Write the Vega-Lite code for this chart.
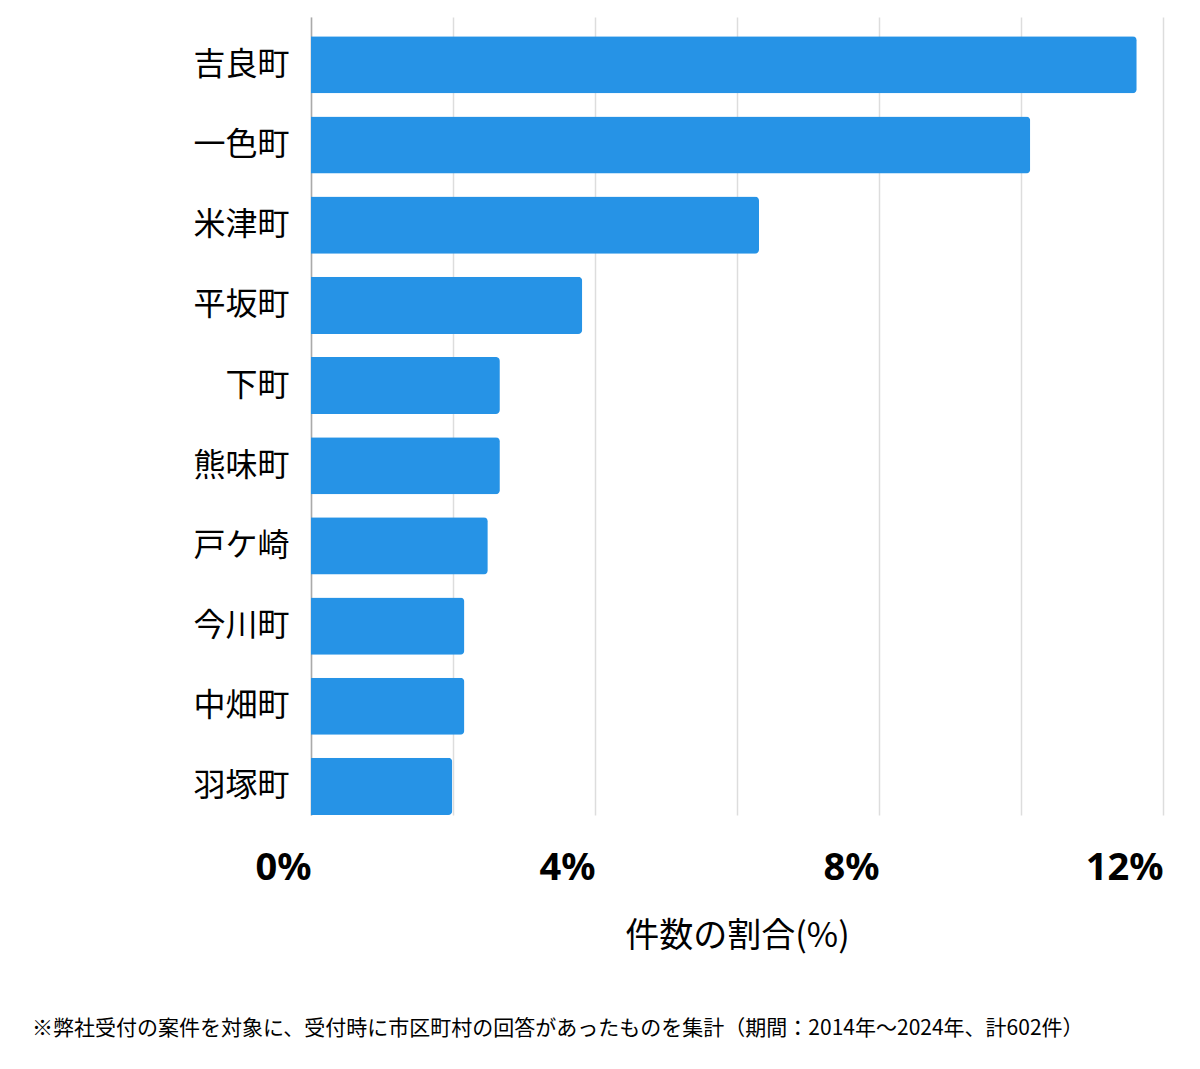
{
  "$schema": "https://vega.github.io/schema/vega-lite/v6.json",
  "width": 852,
  "height": 798,
  "autosize": {"type": "none"},
  "padding": {"left": 311, "top": 17, "right": 37, "bottom": 254},
  "background": "white",
  "data": {
    "values": [
      {"town": "吉良町", "pct": 11.63},
      {"town": "一色町", "pct": 10.13},
      {"town": "米津町", "pct": 6.31},
      {"town": "平坂町", "pct": 3.82},
      {"town": "下町", "pct": 2.66},
      {"town": "熊味町", "pct": 2.66},
      {"town": "戸ケ崎", "pct": 2.49},
      {"town": "今川町", "pct": 2.16},
      {"town": "中畑町", "pct": 2.16},
      {"town": "羽塚町", "pct": 1.99}
    ]
  },
  "title": {
    "text": "※弊社受付の案件を対象に、受付時に市区町村の回答があったものを集計（期間：2014年～2024年、計602件）",
    "orient": "bottom",
    "anchor": "start",
    "frame": "group",
    "dx": -279,
    "offset": 65,
    "font": "Noto Sans CJK JP",
    "fontSize": 21,
    "fontWeight": "normal",
    "color": "#000"
  },
  "mark": {"type": "bar", "color": "#2693e6", "cornerRadiusEnd": 4},
  "encoding": {
    "y": {
      "field": "town",
      "type": "nominal",
      "sort": ["吉良町", "一色町", "米津町", "平坂町", "下町", "熊味町", "戸ケ崎", "今川町", "中畑町", "羽塚町"],
      "scale": {"paddingInner": 0.2875, "paddingOuter": 0.12, "align": 1},
      "axis": {
        "title": null,
        "ticks": false,
        "domain": true,
        "domainColor": "#aaaaaa",
        "domainWidth": 1.5,
        "labelFont": "Noto Sans CJK JP",
        "labelFontSize": 32,
        "labelFontWeight": "normal",
        "labelColor": "#000",
        "labelPadding": 22
      }
    },
    "x": {
      "field": "pct",
      "type": "quantitative",
      "scale": {"domain": [0, 12], "nice": false},
      "axis": {
        "values": [0, 2, 4, 6, 8, 10, 12],
        "labelExpr": "datum.value % 4 == 0 ? datum.value + '%' : ''",
        "ticks": false,
        "domain": false,
        "grid": true,
        "gridColor": "#dddddd",
        "gridWidth": 1.5,
        "labelAlign": "right",
        "labelBaseline": "top",
        "labelPadding": 34,
        "labelFont": "Noto Sans",
        "labelFontSize": 38,
        "labelFontWeight": "bold",
        "labelColor": "#000",
        "labelFlush": false,
        "labelOverlap": false,
        "title": "件数の割合(%)",
        "titleFont": "Noto Sans CJK JP",
        "titleFontSize": 34,
        "titleFontWeight": "normal",
        "titleColor": "#000",
        "titlePadding": 32
      }
    }
  },
  "config": {"view": {"stroke": null}}
}
